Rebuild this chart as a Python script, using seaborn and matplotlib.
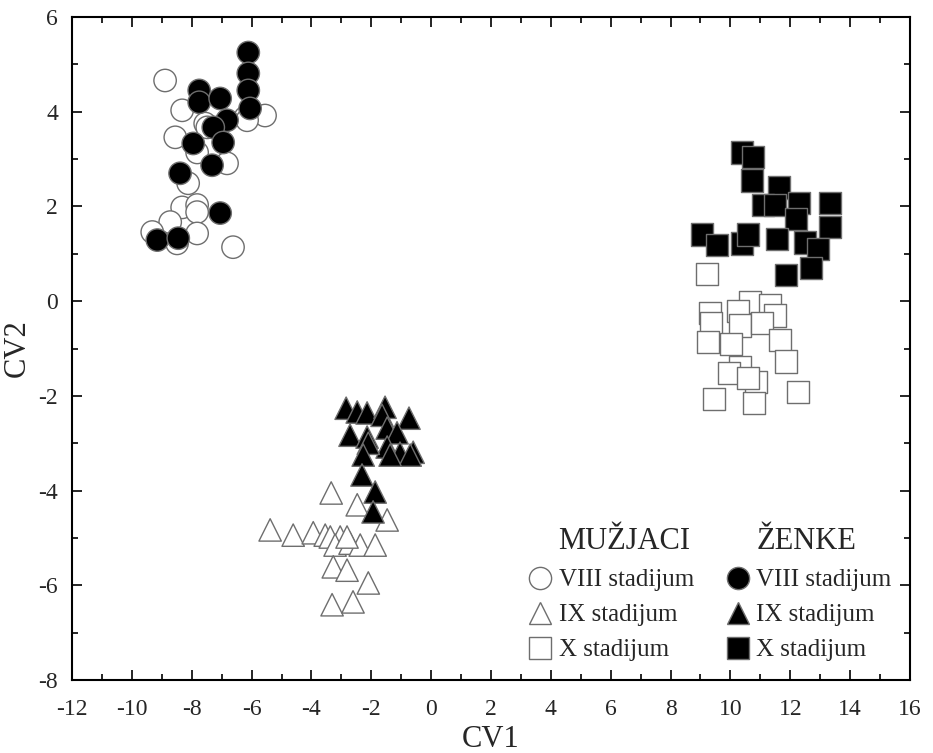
import numpy as np
import pandas as pd
import matplotlib
matplotlib.use("Agg")
import matplotlib.pyplot as plt
import seaborn as sns
from matplotlib.lines import Line2D
from matplotlib.ticker import MultipleLocator

# ---------------- data ----------------
# Males (open markers)
m8_x = [-8.89, -8.32, -5.55, -6.21, -7.55, -8.55, -7.82, -6.82, -8.12, -8.32,
        -7.82, -7.82, -8.72, -9.32, -7.82, -6.62, -8.49, -7.48, -6.15]
m8_y = [4.66, 4.03, 3.92, 3.88, 3.75, 3.46, 3.14, 2.91, 2.49, 1.98,
        2.03, 1.88, 1.67, 1.46, 1.43, 1.14, 1.22, 3.67, 3.82]
m9_x = [-3.34, -2.47, -1.47, -5.38, -4.61, -3.94, -3.54, -3.37, -3.04, -3.21,
        -2.71, -2.37, -1.87, -2.81, -3.27, -2.81, -2.10, -3.31, -2.61]
m9_y = [-4.05, -4.30, -4.62, -4.83, -4.94, -4.89, -4.94, -4.98, -4.98, -5.15,
        -5.11, -5.15, -5.15, -4.98, -5.61, -5.68, -5.95, -6.41, -6.35]
m10_x = [9.22, 10.66, 11.33, 9.32, 10.26, 11.49, 9.36, 10.32, 11.06, 9.26,
         10.02, 11.66, 11.86, 10.32, 9.96, 10.86, 10.59, 12.26, 9.46, 10.79]
m10_y = [0.57, -0.02, -0.08, -0.25, -0.21, -0.30, -0.46, -0.51, -0.46, -0.86,
         -0.91, -0.82, -1.27, -1.39, -1.52, -1.71, -1.62, -1.92, -2.07, -2.15]
# Females (filled markers)
f8_x = [-6.11, -6.11, -6.11, -6.05, -7.75, -7.75, -7.05, -6.82, -7.28, -6.95,
        -7.95, -7.32, -8.39, -7.05, -9.15, -8.45]
f8_y = [5.25, 4.81, 4.45, 4.07, 4.45, 4.20, 4.28, 3.82, 3.67, 3.35,
        3.33, 2.87, 2.70, 1.86, 1.29, 1.33]
f9_x = [-2.84, -2.47, -2.14, -1.54, -1.64, -0.74, -2.71, -2.14, -1.47, -1.14,
        -1.47, -1.04, -0.60, -0.70, -2.10, -2.27, -1.37, -2.31, -1.87, -1.94]
f9_y = [-2.26, -2.34, -2.36, -2.24, -2.41, -2.47, -2.83, -2.87, -2.68, -2.78,
        -3.08, -3.21, -3.19, -3.25, -3.00, -3.25, -3.25, -3.67, -4.03, -4.45]
f10_x = [10.39, 10.76, 10.72, 11.63, 11.09, 11.49, 12.30, 13.33, 12.20, 13.33,
         9.05, 9.56, 10.39, 10.59, 11.56, 12.50, 12.93, 12.70, 11.86]
f10_y = [3.14, 3.04, 2.55, 2.40, 2.03, 2.03, 2.07, 2.07, 1.73, 1.56,
         1.41, 1.18, 1.22, 1.41, 1.31, 1.24, 1.10, 0.70, 0.55]

stages = ["VIII stadijum", "IX stadijum", "X stadijum"]
x_ticks = list(range(-12, 17, 2))
y_ticks = list(range(-8, 7, 2))

def frame(xs, ys, stage):
    return pd.DataFrame({"CV1": xs, "CV2": ys, "stage": stage})

males = pd.concat([frame(m8_x, m8_y, stages[0]), frame(m9_x, m9_y, stages[1]),
                   frame(m10_x, m10_y, stages[2])], ignore_index=True)
females = pd.concat([frame(f8_x, f8_y, stages[0]), frame(f9_x, f9_y, stages[1]),
                     frame(f10_x, f10_y, stages[2])], ignore_index=True)

# ---------------- plot ----------------
sns.set_theme(style="white")
plt.rcParams["font.family"] = ["Liberation Serif", "DejaVu Serif"]
plt.rcParams["axes.unicode_minus"] = False

fig = plt.figure(figsize=(9.33, 7.53), dpi=100)
ax = fig.add_axes([0.0772, 0.0969, 0.8981, 0.8805])

markers = {stages[0]: "o", stages[1]: "^", stages[2]: "s"}
sizes_kw = dict(s=260, linewidth=1.0)

sns.scatterplot(data=males, x="CV1", y="CV2", style="stage", markers=markers,
                color="white", edgecolor="#6e6e6e", legend=False, ax=ax, zorder=2,
                **sizes_kw)
sns.scatterplot(data=females, x="CV1", y="CV2", style="stage", markers=markers,
                color="black", edgecolor="#6e6e6e", legend=False, ax=ax, zorder=3,
                **sizes_kw)

ax.set_xlim(-12, 16)
ax.set_ylim(-8, 6)
ax.set_xticks(x_ticks)
ax.set_yticks(y_ticks)
ax.xaxis.set_minor_locator(MultipleLocator(1))
ax.yaxis.set_minor_locator(MultipleLocator(1))
ax.tick_params(which="both", direction="in", top=True, right=True,
               bottom=True, left=True, color="black", width=1.2)
ax.tick_params(which="major", length=7, labelsize=17)
ax.tick_params(which="minor", length=4)
ax.tick_params(axis="x", which="major", pad=14)
ax.tick_params(axis="y", which="major", pad=10)
for sp in ax.spines.values():
    sp.set_color("black")
    sp.set_linewidth(1.5)
ax.set_xlabel("CV1", fontsize=22, labelpad=3)
ax.set_ylabel("CV2", fontsize=22, labelpad=5)

# legend
blank = Line2D([], [], linestyle="none", marker=None)
def h(m, fc):
    return Line2D([], [], linestyle="none", marker=m, markersize=16,
                  markerfacecolor=fc, markeredgecolor="#6e6e6e", markeredgewidth=1.0)
handles = [blank, h("o", "white"), h("^", "white"), h("s", "white"),
           blank, h("o", "black"), h("^", "black"), h("s", "black")]
labels = ["MUŽJACI"] + stages + ["ŽENKE"] + stages
leg = ax.legend(handles, labels, ncol=2, loc="lower right",
                bbox_to_anchor=(0.99, 0.013), frameon=False, fontsize=18,
                handlelength=0.9, handletextpad=0.3, columnspacing=1.3,
                labelspacing=0.5, borderaxespad=0)
texts = leg.get_texts()
for i in (0, 4):
    texts[i].set_fontsize(22)

fig.savefig("out.png", dpi=100, facecolor="white")
